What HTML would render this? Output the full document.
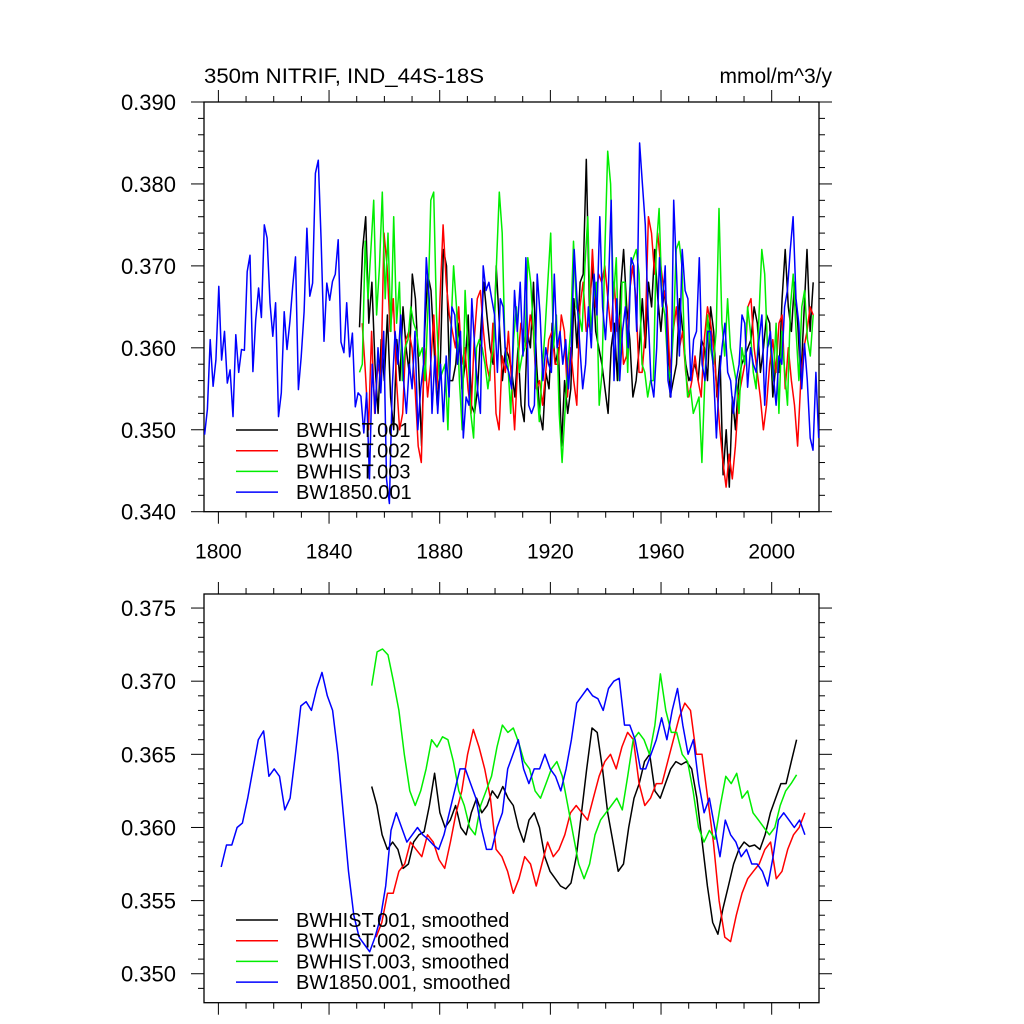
<!DOCTYPE html>
<html><head><meta charset="utf-8"><style>
html,body{margin:0;padding:0;background:#fff;}
svg{display:block;font-family:"Liberation Sans",sans-serif;}
</style></head><body>
<svg id="chart" width="1024" height="1024" viewBox="0 0 1024 1024" xmlns="http://www.w3.org/2000/svg">
<text x="204" y="83" font-size="21" textLength="280" lengthAdjust="spacingAndGlyphs">350m NITRIF, IND_44S-18S</text>
<text x="832" y="83" font-size="21" text-anchor="end">mmol/m^3/y</text>
<g id="top"></g>
<g id="bot"></g>
</svg>
<script>
const xTicks=[1800,1840,1880,1920,1960,2000];
const topYTicks=[0.340,0.350,0.360,0.370,0.380,0.390];
const botYTicks=[0.350,0.355,0.360,0.365,0.370,0.375];
const seriesNames=["BWHIST.001","BWHIST.002","BWHIST.003","BW1850.001"];
const seriesColors=["#000000","#ff0000","#00ee00","#0000ff"];
const rawStart=[1851,1852,1851,1795];
const rawEnd=[2015,2015,2015,2017];
const rawBlack=[0.3625,0.372,0.376,0.363,0.368,0.358,0.352,0.361,0.356,0.364,0.354,0.350,0.361,0.356,0.365,0.360,0.357,0.369,0.366,0.358,0.348,0.362,0.369,0.367,0.360,0.353,0.358,0.372,0.370,0.356,0.356,0.358,0.363,0.355,0.358,0.364,0.353,0.352,0.355,0.362,0.368,0.364,0.360,0.358,0.370,0.363,0.356,0.360,0.359,0.357,0.354,0.360,0.353,0.351,0.362,0.360,0.368,0.358,0.352,0.350,0.357,0.355,0.363,0.358,0.360,0.348,0.356,0.352,0.355,0.366,0.360,0.368,0.369,0.383,0.365,0.370,0.362,0.360,0.358,0.355,0.352,0.360,0.363,0.356,0.367,0.372,0.365,0.361,0.354,0.356,0.360,0.366,0.360,0.368,0.365,0.372,0.366,0.362,0.367,0.364,0.354,0.356,0.358,0.366,0.362,0.358,0.356,0.357,0.358,0.356,0.361,0.360,0.356,0.365,0.362,0.354,0.359,0.3445,0.350,0.343,0.354,0.350,0.356,0.358,0.359,0.360,0.361,0.365,0.363,0.357,0.360,0.364,0.363,0.354,0.358,0.357,0.366,0.372,0.365,0.362,0.368,0.363,0.356,0.364,0.372,0.362,0.368];
const rawRed=[0.363,0.357,0.350,0.362,0.352,0.358,0.356,0.374,0.370,0.362,0.366,0.356,0.350,0.352,0.361,0.362,0.360,0.355,0.348,0.346,0.360,0.354,0.358,0.364,0.355,0.366,0.375,0.368,0.364,0.362,0.360,0.365,0.358,0.360,0.355,0.352,0.361,0.366,0.367,0.362,0.358,0.356,0.363,0.352,0.350,0.359,0.357,0.362,0.356,0.350,0.358,0.363,0.361,0.360,0.364,0.362,0.355,0.356,0.353,0.357,0.361,0.362,0.358,0.358,0.364,0.362,0.354,0.360,0.356,0.353,0.365,0.368,0.362,0.363,0.372,0.365,0.369,0.368,0.370,0.366,0.362,0.368,0.362,0.364,0.358,0.359,0.367,0.370,0.366,0.357,0.357,0.362,0.376,0.374,0.369,0.374,0.370,0.367,0.365,0.357,0.362,0.365,0.360,0.362,0.357,0.354,0.356,0.359,0.356,0.354,0.361,0.365,0.363,0.360,0.355,0.350,0.346,0.343,0.347,0.344,0.348,0.354,0.356,0.358,0.365,0.366,0.360,0.357,0.354,0.350,0.353,0.358,0.361,0.357,0.363,0.364,0.355,0.360,0.356,0.353,0.348,0.356,0.360,0.362,0.365,0.364];
const rawGreen=[0.357,0.358,0.373,0.366,0.372,0.378,0.364,0.370,0.379,0.366,0.374,0.362,0.376,0.363,0.368,0.356,0.360,0.361,0.365,0.363,0.362,0.359,0.360,0.356,0.365,0.378,0.379,0.364,0.356,0.357,0.358,0.350,0.362,0.370,0.365,0.356,0.350,0.367,0.360,0.352,0.349,0.360,0.361,0.360,0.358,0.355,0.358,0.360,0.370,0.379,0.374,0.360,0.358,0.352,0.361,0.365,0.357,0.359,0.360,0.371,0.368,0.362,0.356,0.351,0.357,0.362,0.368,0.374,0.360,0.364,0.352,0.346,0.352,0.358,0.362,0.373,0.365,0.364,0.362,0.370,0.376,0.362,0.366,0.368,0.353,0.357,0.372,0.384,0.380,0.366,0.371,0.356,0.368,0.368,0.357,0.370,0.371,0.372,0.369,0.358,0.357,0.354,0.356,0.356,0.372,0.377,0.366,0.364,0.358,0.356,0.362,0.372,0.373,0.370,0.359,0.354,0.355,0.352,0.353,0.354,0.346,0.356,0.364,0.360,0.358,0.362,0.377,0.363,0.359,0.366,0.360,0.358,0.356,0.352,0.360,0.358,0.365,0.362,0.357,0.355,0.364,0.372,0.369,0.360,0.361,0.356,0.363,0.352,0.362,0.357,0.353,0.365,0.369,0.362,0.356,0.365,0.367,0.361,0.359,0.364];
const rawBlue=[0.3494,0.3525,0.3610,0.3553,0.3585,0.3675,0.3585,0.3620,0.3557,0.3573,0.3516,0.3616,0.3570,0.3598,0.3597,0.3693,0.3713,0.3571,0.3634,0.3673,0.3637,0.3750,0.3734,0.3655,0.3614,0.3655,0.3516,0.3545,0.3644,0.3598,0.3632,0.3675,0.3711,0.3549,0.3589,0.3644,0.3746,0.3663,0.3679,0.3813,0.3829,0.3732,0.3608,0.3679,0.3658,0.3681,0.3690,0.3732,0.3607,0.3594,0.3655,0.3589,0.3618,0.3528,0.3545,0.3541,0.3496,
0.3545,0.344,0.358,0.352,0.360,0.3545,0.362,0.344,0.341,0.355,0.362,0.358,0.364,0.356,0.352,0.358,0.355,0.362,0.350,0.355,0.358,0.371,0.366,0.352,0.359,0.352,0.358,0.351,0.359,0.354,0.365,0.364,0.358,0.362,0.349,0.354,0.353,0.366,0.360,0.355,0.352,0.370,0.367,0.368,0.366,0.364,0.357,0.366,0.365,0.358,0.357,0.355,0.367,0.362,0.368,0.359,0.371,0.353,0.352,0.353,0.369,0.364,0.356,0.360,0.358,0.357,0.369,0.360,0.362,0.358,0.361,0.355,0.360,0.372,0.366,0.360,0.355,0.358,0.365,0.360,0.369,0.364,0.376,0.365,0.361,0.367,0.378,0.356,0.366,0.356,0.362,0.365,0.360,0.371,0.370,0.362,0.385,0.380,0.375,0.364,0.356,0.354,0.360,0.371,0.365,0.370,0.356,0.354,0.378,0.369,0.359,0.372,0.367,0.366,0.356,0.361,0.362,0.371,0.358,0.356,0.362,0.362,0.357,0.349,0.356,0.360,0.363,0.357,0.356,0.352,0.356,0.358,0.364,0.363,0.3552,0.360,0.358,0.357,0.361,0.364,0.353,0.360,0.362,0.3568,0.353,0.359,0.358,0.365,0.367,0.372,0.376,0.366,0.363,0.355,0.3605,0.356,0.349,0.3475,0.357,0.349];
const smStart=[1855.4,1857,1855.4,1801];
const smEnd=[2009,2012,2009,2012];
const smBlack=[0.3628,0.3615,0.3595,0.3585,0.3590,0.3585,0.3572,0.3575,0.3590,0.3595,0.3597,0.3615,0.3637,0.3610,0.3600,0.3605,0.3615,0.3600,0.3595,0.3610,0.3620,0.3610,0.3615,0.3625,0.3620,0.3628,0.3620,0.3615,0.3600,0.3590,0.3605,0.3610,0.3600,0.3580,0.3570,0.3565,0.3560,0.3558,0.3562,0.3580,0.3610,0.3640,0.3668,0.3665,0.3640,0.3610,0.3590,0.3570,0.3575,0.3600,0.3620,0.3630,0.3645,0.3650,0.3625,0.3620,0.3630,0.3640,0.3645,0.3643,0.3645,0.3640,0.3620,0.3590,0.3560,0.3535,0.3527,0.3545,0.3560,0.3575,0.3585,0.3590,0.3587,0.3588,0.3585,0.3595,0.3610,0.3620,0.3630,0.3630,0.3645,0.3660];
const smRed=[0.3525,0.3535,0.3555,0.3555,0.3570,0.3575,0.3590,0.3585,0.3580,0.3595,0.3590,0.3578,0.3572,0.3590,0.3610,0.3625,0.3650,0.3667,0.3655,0.3640,0.3620,0.3585,0.3580,0.3570,0.3555,0.3565,0.3580,0.3575,0.3560,0.3575,0.3590,0.3580,0.3585,0.3595,0.3610,0.3615,0.3610,0.3605,0.3620,0.3635,0.3645,0.3650,0.3640,0.3655,0.3665,0.3660,0.3630,0.3615,0.3620,0.3630,0.3630,0.3645,0.3660,0.3675,0.3685,0.3680,0.3650,0.3650,0.3620,0.3590,0.3550,0.3525,0.3522,0.3540,0.3555,0.3565,0.3570,0.3575,0.3585,0.3590,0.3565,0.3570,0.3585,0.3595,0.3600,0.3610];
const smGreen=[0.3697,0.3720,0.3722,0.3718,0.3700,0.3680,0.3650,0.3625,0.3615,0.3625,0.3640,0.3660,0.3655,0.3662,0.3660,0.3645,0.3625,0.3615,0.3600,0.3595,0.3615,0.3625,0.3635,0.3655,0.3670,0.3665,0.3668,0.3658,0.3645,0.3640,0.3625,0.3620,0.3630,0.3640,0.3645,0.3635,0.3615,0.3595,0.3575,0.3565,0.3575,0.3595,0.3605,0.3610,0.3615,0.3620,0.3612,0.3635,0.3660,0.3665,0.3660,0.3650,0.3670,0.3705,0.3680,0.3665,0.3665,0.3650,0.3645,0.3625,0.3600,0.3590,0.3598,0.3592,0.3615,0.3635,0.3630,0.3637,0.3620,0.3625,0.3610,0.3605,0.3600,0.3595,0.3600,0.3615,0.3625,0.3630,0.3636];
const smBlue=[0.3573,0.3588,0.3588,0.3600,0.3603,0.3620,0.3640,0.3660,0.3666,0.3635,0.3640,0.3635,0.3612,0.3620,0.3650,0.3683,0.3686,0.3680,0.3695,0.3706,0.3690,0.3680,0.3650,0.3610,0.3570,0.3540,0.3525,0.3520,0.3515,0.3525,0.3538,0.3560,0.3598,0.3610,0.3600,0.3590,0.3595,0.3600,0.3595,0.3592,0.3588,0.3585,0.3595,0.3610,0.3625,0.3640,0.3640,0.3630,0.3620,0.3600,0.3585,0.3585,0.3600,0.3610,0.3640,0.3650,0.3660,0.3640,0.3630,0.3640,0.3640,0.3650,0.3640,0.3635,0.3625,0.3640,0.3660,0.3685,0.3690,0.3695,0.3690,0.3688,0.3680,0.3695,0.3700,0.3702,0.3670,0.3670,0.3660,0.3640,0.3640,0.3650,0.3660,0.3675,0.3660,0.3680,0.3695,0.3670,0.3650,0.3660,0.3630,0.3610,0.3620,0.3600,0.3580,0.3605,0.3595,0.3590,0.3580,0.3585,0.3575,0.3575,0.3570,0.3560,0.3580,0.3605,0.3610,0.3605,0.3600,0.3605,0.3595];

const NS="http://www.w3.org/2000/svg";
const X0=204,X1=819,Y0=1794.8,Y1=2017.1;
function xs(yr){return X0+(yr-Y0)/(Y1-Y0)*(X1-X0);}
function mk(tag,attrs,parent){const e=document.createElementNS(NS,tag);for(const k in attrs)e.setAttribute(k,attrs[k]);parent.appendChild(e);return e;}

function panel(g,top,bot,vTop,vBot,yTicks,minorStep,showXLabels,series,starts,ends,legendY,suffix){
  const ys=v=>top+(vTop-v)/(vTop-vBot)*(bot-top);
  const box=mk('rect',{x:X0,y:top,width:X1-X0,height:bot-top,fill:'none',stroke:'#000','stroke-width':1.3},g);
  
  
  const lo=Math.ceil(vBot/minorStep-1e-6),hi=Math.floor(vTop/minorStep+1e-6);
  for(let k=lo;k<=hi;k++){const v=k*minorStep;const y=ys(v);
    const major=yTicks.some(t=>Math.abs(t-v)<1e-7);const L=major?13:6;
    const t1=mk('line',{x1:X0-L,x2:X0,y1:y,y2:y,stroke:'#000','stroke-width':1},g);
    
    
    const t2=mk('line',{x1:X1,x2:X1+L,y1:y,y2:y,stroke:'#000','stroke-width':1},g);
    
    }
  yTicks.forEach(v=>{const t=mk('text',{x:176,y:ys(v)+8,'font-size':22,'text-anchor':'end'},g);t.textContent=v.toFixed(3);
    
    });
  for(let yr=1800;yr<=2010;yr+=10){const x=xs(yr);const major=xTicks.includes(yr);const L=major?12:6;
    const a=mk('line',{x1:x,x2:x,y1:bot,y2:bot+L,stroke:'#000','stroke-width':1},g);
    
    
    const b=mk('line',{x1:x,x2:x,y1:top-L,y2:top,stroke:'#000','stroke-width':1},g);
    
    }
  if(showXLabels)xTicks.forEach(yr=>{const t=mk('text',{x:xs(yr),y:bot+47,'font-size':21,'text-anchor':'middle'},g);t.textContent=yr;
    
    });
  series.forEach((arr,si)=>{const n=arr.length;const step=(ends[si]-starts[si])/(n-1);
    const pts=arr.map((v,i)=>xs(starts[si]+i*step).toFixed(1)+','+ys(v).toFixed(1)).join(' ');
    const p=mk('polyline',{points:pts,fill:'none',stroke:seriesColors[si],'stroke-width':1.5,'stroke-linejoin':'round'},g);
    
    });
  seriesNames.forEach((nm,i)=>{const y=legendY+i*20.7;
    const l=mk('line',{x1:236,x2:278,y1:y,y2:y,stroke:seriesColors[i],'stroke-width':1.5},g);
    
    
    const t=mk('text',{x:296,y:y+7,'font-size':20},g);t.textContent=nm+suffix;
    
    });
}
panel(document.getElementById('top'),102,511.7,0.390,0.340,topYTicks,0.002,true,[rawBlack,rawRed,rawGreen,rawBlue],rawStart,rawEnd,430,'');
panel(document.getElementById('bot'),594,1002.7,0.37596,0.34802,botYTicks,0.001,false,[smBlack,smRed,smGreen,smBlue],smStart,smEnd,920,', smoothed');
</script>
</body></html>
